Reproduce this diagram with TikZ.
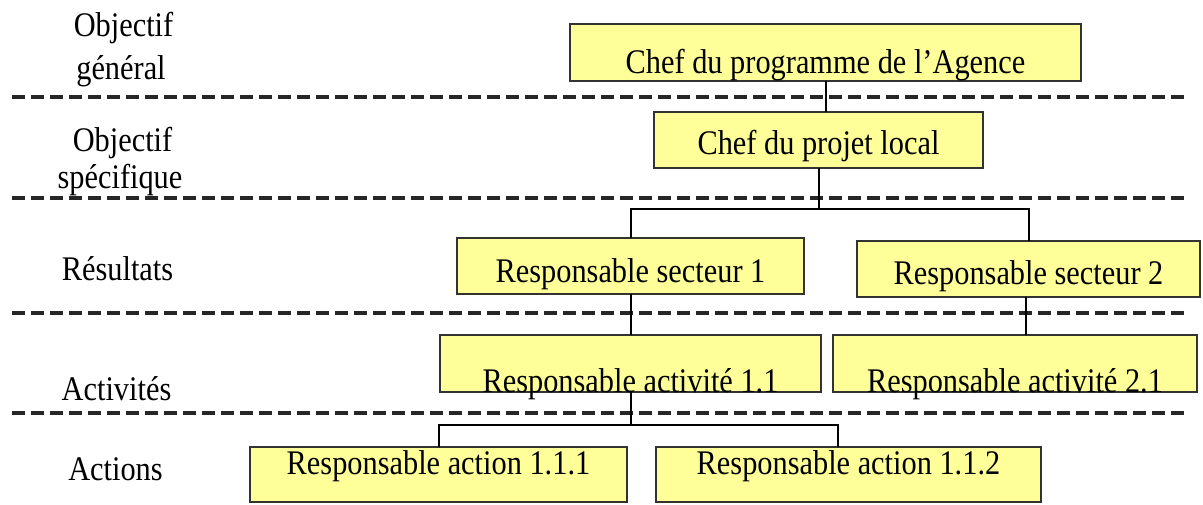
\documentclass[tikz,border=0pt]{standalone}
\usepackage{fontspec}
\setmainfont{Liberation Serif}[FakeStretch=0.88]
\definecolor{boxyellow}{RGB}{255,255,153}

\begin{document}
\begin{tikzpicture}[x=1pt,y=-1pt,
      txt/.style={font=\fontsize{34.5}{40}\selectfont, inner sep=0pt, anchor=base},
      box/.style={txt, draw=black!80, line width=2pt, fill=boxyellow, outer sep=0pt},
      niveau/.style={line width=4.5pt, black!85, dash pattern=on 13pt off 6pt},
      lien/.style={line width=2pt}]
      \useasboundingbox (0,0) rectangle (1203,505);
      \draw[niveau] (12,97) -- (1185,97);
      \draw[niveau] (12,198) -- (1185,198);
      \draw[niveau] (12,313) -- (1185,313);
      \draw[niveau] (12,413) -- (1185,413);
      \node[txt] (og1) at (123.5,37) {Objectif};
      \node[txt] (og2) at (121,80) {général};
      \node[txt] (os1) at (122.5,152) {Objectif};
      \node[txt] (os2) at (120,189) {spécifique};
      \node[txt] (res) at (117.5,281) {Résultats};
      \node[txt] (act) at (116.5,400) {Activités};
      \node[txt] (acn) at (115.5,480) {Actions};
      \node[box, minimum width=511pt, text height=50pt, text depth=7pt] (prog) at (825.5,74) {Chef du programme de l’Agence};
      \node[box, minimum width=329pt, text height=43pt, text depth=13pt] (projet) at (818.5,155) {Chef du projet local};
      \node[box, minimum width=347pt, text height=45pt, text depth=11pt] (sect1) at (630.5,283) {Responsable secteur 1};
      \node[box, minimum width=343pt, text height=44pt, text depth=12pt] (sect2) at (1028.5,285) {Responsable secteur 2};
      \node[box, minimum width=381pt, text height=57pt, text depth=0pt] (act11) at (630.5,392) {Responsable activité 1.1};
      \node[box, minimum width=364pt, text height=57pt, text depth=0pt] (act21) at (1015,392) {Responsable activité 2.1};
      \node[box, minimum width=377pt, text height=27pt, text depth=28pt] (acn111) at (438.5,474) {Responsable action 1.1.1};
      \node[box, minimum width=385pt, text height=27pt, text depth=28pt] (acn112) at (848.5,474) {Responsable action 1.1.2};
      \coordinate (split1) at (projet.south |- 0,209);
      \coordinate (split2) at (act11.south |- 0,425);
      \draw[lien] (prog.south) -- (prog.south |- projet.north);
      \draw[lien] (projet.south) -- (split1);
      \draw[lien] (sect1.north) |- (split1) -| (sect2.north);
      \draw[lien] (sect1.south) -- (sect1.south |- act11.north);
      \draw[lien] ([xshift=-3pt]sect2.south) -- ([xshift=-3pt]sect2.south |- act21.north);
      \draw[lien] (act11.south) -- (split2);
      \draw[lien] (acn111.north) |- (split2) -| ([xshift=-11pt]acn112.north);
\end{tikzpicture}
\end{document}
